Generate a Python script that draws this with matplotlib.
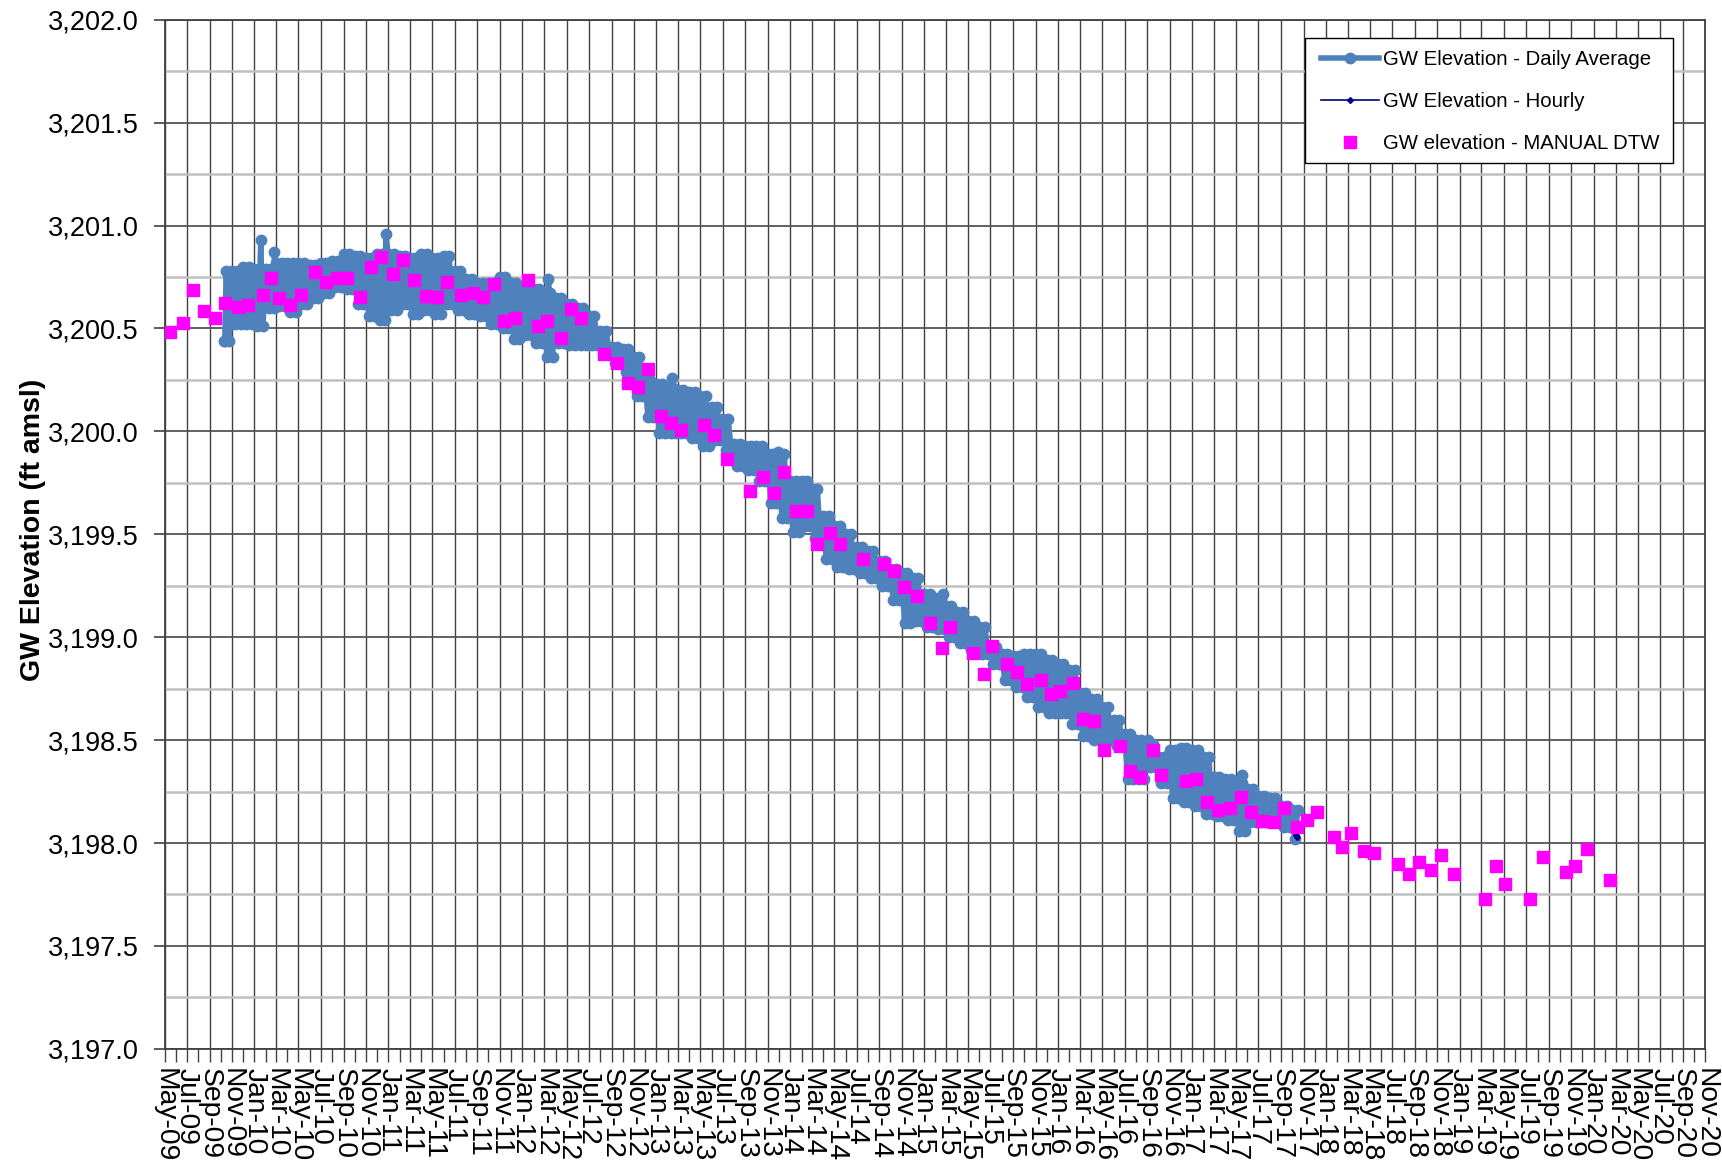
import matplotlib
matplotlib.use("Agg")
import matplotlib.pyplot as plt
import matplotlib.dates as mdates
import matplotlib.ticker as mticker
from matplotlib.patches import Rectangle
import pandas as pd

plt.rcParams["font.family"] = ["Liberation Sans", "DejaVu Sans"]

# daily average record: upper / lower edge of the band, one pair per month (Oct-09 .. Oct-17)
band_start_month = "2009-10-01"
band_high = [
    3200.78, 3200.78, 3200.80,
    3200.79, 3200.79, 3200.82, 3200.82, 3200.82, 3200.81, 3200.82, 3200.83, 3200.86, 3200.85, 3200.84, 3200.86,
    3200.86, 3200.85, 3200.84, 3200.86, 3200.84, 3200.85, 3200.78, 3200.74, 3200.72, 3200.72, 3200.75, 3200.72,
    3200.70, 3200.69, 3200.67, 3200.65, 3200.62, 3200.60, 3200.56, 3200.49, 3200.41, 3200.40, 3200.36, 3200.25,
    3200.23, 3200.21, 3200.20, 3200.19, 3200.17, 3200.12, 3200.06, 3199.94, 3199.93, 3199.93, 3199.89, 3199.89,
    3199.76, 3199.76, 3199.72, 3199.59, 3199.54, 3199.50, 3199.44, 3199.42, 3199.37, 3199.33, 3199.31, 3199.29,
    3199.21, 3199.19, 3199.15, 3199.12, 3199.08, 3199.05, 3198.95, 3198.92, 3198.91, 3198.92, 3198.92, 3198.89,
    3198.87, 3198.84, 3198.73, 3198.70, 3198.66, 3198.60, 3198.53, 3198.50, 3198.48, 3198.42, 3198.45, 3198.46,
    3198.45, 3198.42, 3198.32, 3198.31, 3198.29, 3198.26, 3198.23, 3198.22, 3198.18, 3198.16,
]
band_low = [
    3200.44, 3200.52, 3200.52,
    3200.51, 3200.60, 3200.61, 3200.58, 3200.62, 3200.65, 3200.67, 3200.70, 3200.69, 3200.62, 3200.56, 3200.54,
    3200.59, 3200.62, 3200.57, 3200.59, 3200.57, 3200.62, 3200.59, 3200.57, 3200.56, 3200.52, 3200.50, 3200.45,
    3200.47, 3200.43, 3200.36, 3200.43, 3200.42, 3200.42, 3200.42, 3200.41, 3200.33, 3200.29, 3200.17, 3200.07,
    3199.99, 3199.99, 3199.99, 3199.97, 3199.93, 3199.96, 3199.91, 3199.83, 3199.81, 3199.76, 3199.65, 3199.58,
    3199.51, 3199.54, 3199.48, 3199.38, 3199.34, 3199.33, 3199.31, 3199.29, 3199.25, 3199.18, 3199.07, 3199.08,
    3199.05, 3199.04, 3199.00, 3198.97, 3198.94, 3198.92, 3198.87, 3198.79, 3198.76, 3198.71, 3198.66, 3198.63,
    3198.63, 3198.58, 3198.52, 3198.50, 3198.50, 3198.47, 3198.31, 3198.31, 3198.37, 3198.29, 3198.22, 3198.20,
    3198.18, 3198.14, 3198.13, 3198.11, 3198.06, 3198.10, 3198.10, 3198.10, 3198.08, 3198.02,
]
band_first_day = "2009-10-06"
band_last_day = "2017-10-20"

# isolated spikes in the daily record
spike_dates = ["2009-10-12", "2010-01-18", "2010-02-24", "2010-12-25", "2012-03-12",
               "2013-02-14", "2013-11-29", "2015-02-21", "2016-09-03", "2017-05-16"]
spike_values = [3200.44, 3200.93, 3200.87, 3200.96, 3200.74,
                3200.26, 3199.90, 3199.21, 3198.50, 3198.33]

# hourly record (only its last readings show)
hourly_dates = ["2017-10-12", "2017-10-14"]
hourly_values = [3198.04, 3198.03]

# manual depth-to-water readings
manual_dates = [
    "2009-05-16", "2009-06-21", "2009-07-18", "2009-08-17", "2009-09-15", "2009-10-12", "2009-11-18", "2009-12-15",
    "2010-01-23", "2010-02-16", "2010-03-10", "2010-04-09", "2010-05-08", "2010-06-15", "2010-07-16", "2010-08-13",
    "2010-09-11", "2010-10-17", "2010-11-15", "2010-12-11", "2011-01-14", "2011-02-11", "2011-03-13", "2011-04-15",
    "2011-05-13", "2011-06-11", "2011-07-17", "2011-08-21", "2011-09-17", "2011-10-16", "2011-11-12", "2011-12-12",
    "2012-01-16", "2012-02-12", "2012-03-10", "2012-04-15", "2012-05-13", "2012-06-09", "2012-08-12", "2012-09-15",
    "2012-10-15", "2012-11-11", "2012-12-08", "2013-01-13", "2013-02-10", "2013-03-09", "2013-05-11", "2013-06-08",
    "2013-07-14", "2013-09-13", "2013-10-19", "2013-11-18", "2013-12-15", "2014-01-18", "2014-02-15", "2014-03-16",
    "2014-04-19", "2014-05-18", "2014-07-19", "2014-09-14", "2014-10-11", "2014-11-08", "2014-12-13", "2015-01-17",
    "2015-02-20", "2015-03-14", "2015-05-15", "2015-06-13", "2015-07-04", "2015-08-16", "2015-09-12", "2015-10-09",
    "2015-11-15", "2015-12-12", "2016-01-08", "2016-02-12", "2016-03-10", "2016-04-09", "2016-05-06", "2016-06-18",
    "2016-07-15", "2016-08-12", "2016-09-17", "2016-10-08", "2016-12-15", "2017-01-13", "2017-02-11", "2017-03-13",
    "2017-04-14", "2017-05-13", "2017-06-10", "2017-07-10", "2017-08-12", "2017-09-09", "2017-10-13", "2017-11-11",
    "2017-12-07", "2018-01-24", "2018-02-14", "2018-03-10", "2018-04-15", "2018-05-12", "2018-07-17", "2018-08-16",
    "2018-09-12", "2018-10-15", "2018-11-11", "2018-12-17", "2019-03-10", "2019-04-09", "2019-05-03", "2019-07-11",
    "2019-08-16", "2019-10-18", "2019-11-11", "2019-12-14", "2020-02-15",
]
manual_values = [
    3200.485, 3200.527, 3200.687, 3200.586, 3200.549, 3200.625, 3200.603, 3200.614,
    3200.663, 3200.744, 3200.647, 3200.614, 3200.663, 3200.776, 3200.727, 3200.744,
    3200.744, 3200.652, 3200.800, 3200.846, 3200.765, 3200.833, 3200.736, 3200.660,
    3200.652, 3200.727, 3200.663, 3200.674, 3200.652, 3200.716, 3200.536, 3200.553,
    3200.736, 3200.514, 3200.536, 3200.455, 3200.593, 3200.552, 3200.375, 3200.334,
    3200.234, 3200.214, 3200.303, 3200.076, 3200.042, 3200.005, 3200.033, 3199.984,
    3199.864, 3199.710, 3199.777, 3199.702, 3199.804, 3199.613, 3199.613, 3199.451,
    3199.505, 3199.451, 3199.380, 3199.354, 3199.322, 3199.245, 3199.202, 3199.071,
    3198.949, 3199.051, 3198.922, 3198.821, 3198.959, 3198.868, 3198.832, 3198.771,
    3198.792, 3198.722, 3198.739, 3198.779, 3198.601, 3198.593, 3198.452, 3198.471,
    3198.350, 3198.319, 3198.452, 3198.330, 3198.301, 3198.310, 3198.200, 3198.160,
    3198.169, 3198.222, 3198.149, 3198.108, 3198.101, 3198.169, 3198.079, 3198.112,
    3198.149, 3198.030, 3197.980, 3198.050, 3197.960, 3197.950, 3197.900, 3197.850,
    3197.910, 3197.870, 3197.940, 3197.850, 3197.730, 3197.890, 3197.800, 3197.730,
    3197.930, 3197.860, 3197.890, 3197.970, 3197.820,
]


def build_daily_series():
    # trace the band as a zigzag between each month's upper and lower edge
    months = pd.date_range(band_start_month, periods=len(band_high), freq="MS")
    rows = []
    for m, hi, lo in zip(months, band_high, band_low):
        for offset, val in ((0, hi), (8, lo), (15, hi), (23, lo)):
            rows.append((m + pd.Timedelta(days=offset), val))
    for d, v in zip(spike_dates, spike_values):
        rows.append((pd.Timestamp(d), v))
    df = pd.DataFrame(rows, columns=["date", "value"]).sort_values("date")
    df = df[(df["date"] >= band_first_day) & (df["date"] <= band_last_day)]
    return df


def main():
    daily = build_daily_series()

    fig = plt.figure(figsize=(17.22, 11.62), dpi=100)
    ax = fig.add_axes([0.0956, 0.0974, 0.8948, 0.8856])

    ax.plot(daily["date"], daily["value"], color="#4F81BD", lw=4, marker="o", ms=7.5,
            mec="#4F81BD", mfc="#4F81BD", zorder=3, label="GW Elevation - Daily Average")
    ax.plot(pd.to_datetime(hourly_dates), hourly_values, color="#000080", lw=1.2, marker="D", ms=3,
            zorder=4, label="GW Elevation - Hourly")
    ax.plot(pd.to_datetime(manual_dates), manual_values, ls="none", marker="s", ms=9,
            color="#FF00FF", mec="#FF00FF", zorder=5, label="GW elevation - MANUAL DTW")

    ax.set_xlim(pd.Timestamp("2009-05-01"), pd.Timestamp("2020-11-01"))
    ax.set_ylim(3197.0, 3202.0)

    ax.xaxis.set_major_locator(mdates.MonthLocator(bymonth=(1, 3, 5, 7, 9, 11)))
    ax.xaxis.set_minor_locator(mdates.MonthLocator())
    ax.xaxis.set_major_formatter(mdates.DateFormatter("%b-%y"))
    ax.yaxis.set_major_locator(mticker.MultipleLocator(0.5))
    ax.yaxis.set_minor_locator(mticker.MultipleLocator(0.25))
    ax.yaxis.set_major_formatter(mticker.StrMethodFormatter("{x:,.1f}"))

    for sp in ax.spines.values():
        sp.set_color("#404040")
        sp.set_linewidth(1.3)

    ax.tick_params(axis="y", which="major", length=8, width=1.2, color="#404040",
                   labelsize=19.5, pad=10.5)
    ax.tick_params(axis="y", which="minor", length=0)
    ax.tick_params(axis="x", which="both", length=9, width=1, color="#404040",
                   labelsize=20.3, pad=5, labelrotation=270)

    # gridlines: every 2 months on x, 0.5 (dark) and 0.25 (light) on y
    ax.set_axisbelow(True)
    ax.grid(False, axis="x", which="minor")
    ax.grid(True, axis="x", which="major", color="#404040", lw=1)
    ax.grid(True, axis="y", which="major", color="#555555", lw=1.3)
    ax.grid(True, axis="y", which="minor", color="#c0c0c0", lw=1.8)

    fig.text(0.0192, 0.544, "GW Elevation (ft amsl)", rotation=90, ha="center", va="center",
             fontsize=20.5, fontweight="bold")

    # legend box drawn separately (wider left margin than the text side)
    ax.add_patch(Rectangle((1305 / 1722, 1 - 163 / 1162), 368 / 1722, 125 / 1162,
                           transform=fig.transFigure, facecolor="white", edgecolor="black",
                           lw=1, zorder=4.9, clip_on=False))
    ax.legend(loc="upper left", bbox_to_anchor=(1321 / 1722, 1 - 50 / 1162), bbox_transform=fig.transFigure,
              borderaxespad=0, borderpad=0, fontsize=14.7, frameon=False, numpoints=1,
              handlelength=2.85, handletextpad=0.2, labelspacing=1.13)

    fig.savefig("out.png", dpi=100)


if __name__ == "__main__":
    main()
